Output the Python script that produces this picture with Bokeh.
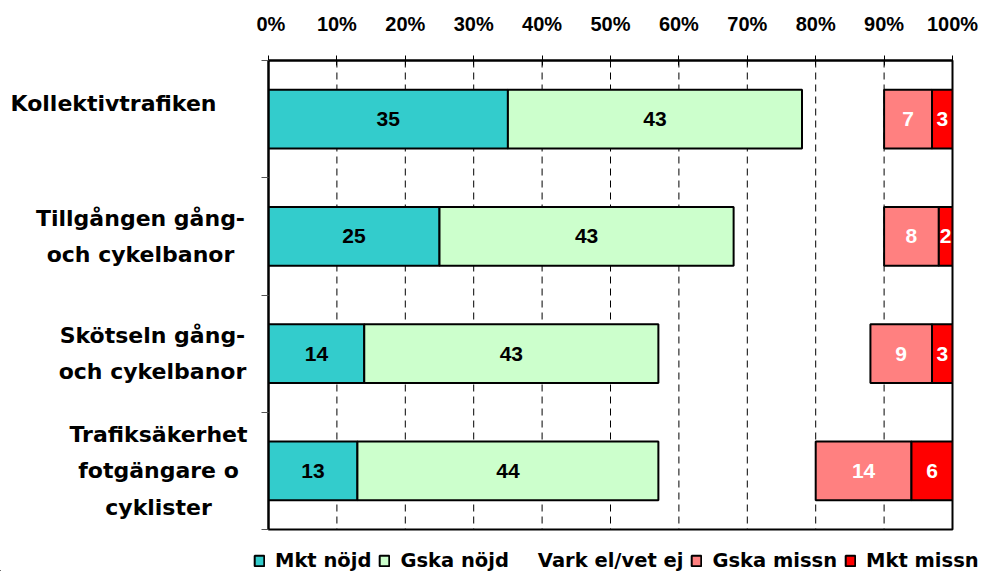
from bokeh.plotting import figure
from bokeh.models import (ColumnDataSource, LinearAxis, FixedTicker, Range1d, Legend,
                          LegendItem, CustomJSTickFormatter, Span)
from bokeh.layouts import row, column
from bokeh.embed import file_html
from bokeh.resources import INLINE
from bokeh.core.properties import value

categories = ["Kollektivtrafiken", "Tillgången gång-\noch cykelbanor",
              "Skötseln gång-\noch cykelbanor", "Trafiksäkerhet\nfotgängare o\ncyklister"]
series = ["Mkt nöjd", "Gska nöjd", "Vark el/vet ej", "Gska missn", "Mkt missn"]
mkt_nojd = [35, 25, 14, 13]
gska_nojd = [43, 43, 43, 44]
vark = [12, 22, 31, 23]
gska_missn = [7, 8, 9, 14]
mkt_missn = [3, 2, 3, 6]
colors = ["#33CCCC", "#CCFFCC", None, "#FF8080", "#FF0000"]
label_colors = ["black", "black", None, "white", "white"]
x_ticks = [0, 10, 20, 30, 40, 50, 60, 70, 80, 90, 100]

# layout helpers for the category labels (screen px / band offsets, not data)
cat_label_x = [113, 140, 152, 158]
cat_label_dy = [0.13, 0, 0, 0]

FONT = "Liberation Sans"
FONT2 = "DejaVu Sans"

TOP, BOTTOM = 60, 2
MAIN_H = 531
LBL_W = 256
yr = Range1d(0, 4)

p = figure(width=736, height=MAIN_H, output_backend="svg", toolbar_location=None,
           x_range=Range1d(0, 100), y_range=yr,
           x_axis_location=None, y_axis_location=None,
           min_border_left=12, min_border_right=40, min_border_top=TOP, min_border_bottom=BOTTOM)
p.outline_line_color = "black"
p.outline_line_width = 2
p.background_fill_color = "white"
p.border_fill_color = "white"
p.ygrid.visible = False
p.xgrid.visible = False

# top axis
xa = LinearAxis(ticker=FixedTicker(ticks=x_ticks))
xa.formatter = CustomJSTickFormatter(code="return tick + '%';")
xa.major_label_text_font = FONT
xa.major_label_text_font_style = "bold"
xa.major_label_text_font_size = "20px"
xa.major_label_text_color = "black"
xa.major_label_standoff = 21
xa.major_tick_in = 5
xa.major_tick_out = 5
xa.minor_tick_line_color = None
xa.axis_line_width = 2
xa.major_tick_line_color = "black"
p.add_layout(xa, "above")

# left axis (boundary ticks only)
ya = LinearAxis(ticker=FixedTicker(ticks=[0, 1, 2, 3, 4]))
ya.major_label_text_font_size = "0px"
ya.major_label_text_alpha = 0
ya.major_label_standoff = 0
ya.major_tick_in = 0
ya.major_tick_out = 7
ya.major_tick_line_color = "#555555"
ya.minor_tick_line_color = None
ya.axis_line_width = 2
p.add_layout(ya, "left")

# dashed vertical gridlines
for t in x_ticks[1:-1]:
    p.add_layout(Span(location=t, dimension="height", line_color="black",
                      line_dash="7 5", line_width=1, level="underlay"))

vals = [mkt_nojd, gska_nojd, vark, gska_missn, mkt_missn]
n = len(categories)
ys = [n - i - 0.5 for i in range(n)]
lefts = [0.0] * n
for k, s in enumerate(series):
    v = vals[k]
    rights = [lefts[i] + v[i] for i in range(n)]
    src = ColumnDataSource(dict(y=ys, left=lefts, right=rights,
                                mid=[(lefts[i] + rights[i]) / 2 for i in range(n)],
                                txt=[str(x) for x in v]))
    if colors[k] is None:
        p.hbar(y="y", left="left", right="right", height=0.5, source=src,
               fill_alpha=0, line_alpha=0)
    else:
        p.hbar(y="y", left="left", right="right", height=0.5, source=src,
               fill_color=colors[k], line_color="black", line_width=2)
        p.text(x="mid", y="y", text="txt", source=src, text_align="center",
               text_baseline="middle", text_font=value(FONT), text_font_style="bold",
               text_font_size="21px", text_color=label_colors[k])
    lefts = rights

# category label panel (shares the y range)
pl = figure(width=LBL_W, height=MAIN_H, output_backend="svg", toolbar_location=None,
            x_range=Range1d(0, LBL_W), y_range=yr,
            x_axis_location=None, y_axis_location=None,
            min_border_left=0, min_border_right=0, min_border_top=TOP, min_border_bottom=BOTTOM)
pl.outline_line_color = None
pl.xgrid.visible = False
pl.ygrid.visible = False
lsrc = ColumnDataSource(dict(x=cat_label_x, y=[ys[i] + cat_label_dy[i] for i in range(n)],
                             txt=categories))
pl.text(x="x", y="y", text="txt", source=lsrc, text_align="center", text_baseline="middle",
        text_font=value(FONT2), text_font_style="bold", text_font_size="22px",
        text_line_height=1.45, text_color="black")

# legend panel
LEG_W, LEG_H = 992, 40
pg = figure(width=LEG_W, height=LEG_H, output_backend="svg", toolbar_location=None,
            x_range=Range1d(0, LEG_W), y_range=Range1d(0, LEG_H),
            x_axis_location=None, y_axis_location=None,
            min_border_left=0, min_border_right=0, min_border_top=0, min_border_bottom=0)
pg.outline_line_color = None
pg.xgrid.visible = False
pg.ygrid.visible = False
items = []
for k, s in enumerate(series):
    # far off-canvas proxy row so the legend swatch gets drawn
    esrc = ColumnDataSource(dict(y=[-5000], left=[-5000], right=[-5000 + vals[k][0]]))
    if colors[k] is None:
        r = pg.hbar(y="y", left="left", right="right", height=1, source=esrc,
                    fill_alpha=0, line_alpha=0)
    else:
        r = pg.hbar(y="y", left="left", right="right", height=1, source=esrc,
                    fill_color=colors[k], line_color="black", line_width=2)
    items.append(LegendItem(label=s, renderers=[r]))
legend = Legend(items=items, orientation="horizontal", location=(253, -1),
                label_text_font=FONT2, label_text_font_style="bold", label_text_font_size="19.5px",
                label_text_color="black",
                glyph_width=12, glyph_height=13, label_standoff=10, spacing=7,
                border_line_alpha=0, background_fill_alpha=0, padding=0, margin=0)
pg.add_layout(legend, "center")

layout = column(row(pl, p, spacing=0), pg, spacing=0)
open("out.html", "w").write(file_html(layout, INLINE))
